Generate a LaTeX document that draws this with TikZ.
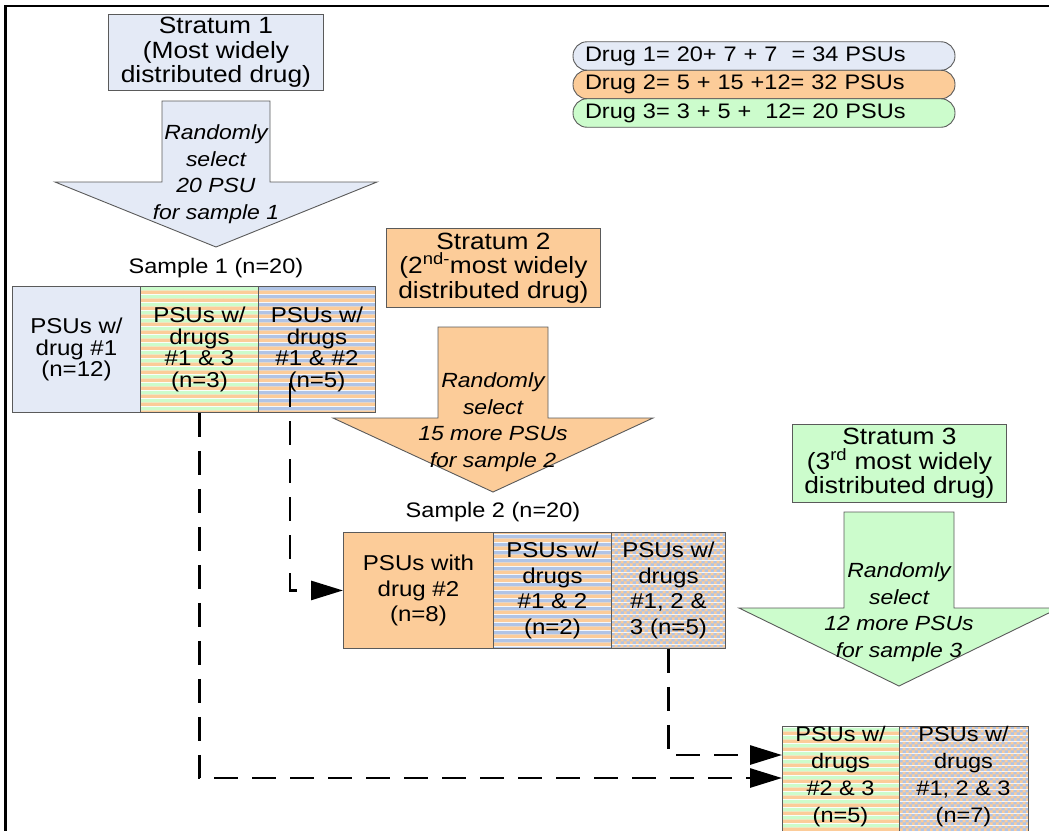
\documentclass[tikz,border=0pt]{standalone}
\usepackage{fontspec}
\setmainfont{Liberation Sans}[FakeStretch=1.12]
\usetikzlibrary{arrows.meta,patterns}
\definecolor{lblue}{RGB}{228,234,246}
\definecolor{porange}{RGB}{252,204,153}
\definecolor{pgreen}{RGB}{204,252,204}
\definecolor{sblue}{RGB}{176,196,230}
\definecolor{edgegray}{RGB}{90,90,90}
\pgfdeclarepatterninherentlycolored{stripeOG}{\pgfpointorigin}{\pgfpoint{8pt}{8pt}}{\pgfpoint{8pt}{8pt}}{%
  \pgfsetfillcolor{porange}\pgfpathrectangle{\pgfpointorigin}{\pgfpoint{8pt}{4pt}}\pgfusepath{fill}%
  \pgfsetfillcolor{pgreen}\pgfpathrectangle{\pgfpoint{0pt}{4pt}}{\pgfpoint{8pt}{4pt}}\pgfusepath{fill}}
\pgfdeclarepatterninherentlycolored{stripeOB}{\pgfpointorigin}{\pgfpoint{8pt}{8pt}}{\pgfpoint{8pt}{8pt}}{%
  \pgfsetfillcolor{porange}\pgfpathrectangle{\pgfpointorigin}{\pgfpoint{8pt}{4pt}}\pgfusepath{fill}%
  \pgfsetfillcolor{sblue}\pgfpathrectangle{\pgfpoint{0pt}{4pt}}{\pgfpoint{8pt}{4pt}}\pgfusepath{fill}}
\pgfdeclarepatterninherentlycolored{checkOB}{\pgfpointorigin}{\pgfpoint{6pt}{6pt}}{\pgfpoint{6pt}{6pt}}{%
  \pgfsetfillcolor{sblue}\pgfpathrectangle{\pgfpointorigin}{\pgfpoint{6pt}{6pt}}\pgfusepath{fill}%
  \pgfsetfillcolor{porange}\pgfpathrectangle{\pgfpointorigin}{\pgfpoint{3pt}{3pt}}%
  \pgfpathrectangle{\pgfpoint{3pt}{3pt}}{\pgfpoint{3pt}{3pt}}\pgfusepath{fill}}
\begin{document}
\begin{tikzpicture}[x=1pt,y=-1pt,
  box/.style={draw=edgegray, line width=0.9pt, inner sep=0pt, align=center, anchor=north west},
  blockarrow/.style={draw=edgegray, line width=0.9pt},
  stratfont/.style={font=\fontsize{23.5}{24.5}\selectfont},
  sonefont/.style={font=\fontsize{21.5}{21.5}\selectfont},
  stwofont/.style={font=\fontsize{21.5}{25.5}\selectfont},
  sthreefont/.style={font=\fontsize{21}{27}\selectfont},
  arrowtext/.style={align=center, inner sep=0pt, font=\itshape\fontsize{20.5}{26.5}\selectfont},
  pill/.style={draw=edgegray, line width=0.9pt, rounded corners=14pt, minimum width=382pt, minimum height=28.5pt,
     text width=358pt, align=left, inner sep=0pt, font=\fontsize{21}{22}\selectfont},
  conn/.style={line width=2.8pt, dash pattern=on 24pt off 14pt, -{Triangle[length=32pt,width=19pt]}},
  labelfont/.style={inner sep=0pt, font=\fontsize{21}{22}\selectfont}]
\useasboundingbox (0,0) rectangle (1049,830);
\clip (0,0) rectangle (1049,830);
% frame
\draw[line width=2.6pt] (5.5,835) -- (5.5,6) -- (1055,6);
% legend
\node[pill, fill=lblue] (l1) at (764,56) {Drug 1= 20+ 7 + 7\ \ = 34 PSUs};
\node[pill, fill=porange] (l2) at (764,84.5) {Drug 2= 5 + 15 +12= 32 PSUs};
\node[pill, fill=pgreen] (l3) at (764,113) {Drug 3= 3 + 5 +\ \ 12= 20 PSUs};
% stratum 1
\node[box, stratfont, fill=lblue, minimum width=215pt, minimum height=76pt] (st1) at (108,14) {Stratum 1\\(Most widely\\distributed drug)};
\draw[blockarrow, fill=lblue] (162,101) -- (270,101) -- (270,182) -- (377,182) -- (216,247) -- (55,182) -- (162,182) -- cycle;
\node[arrowtext] (a1) at (216,174) {Randomly\\select\\20 PSU\\for sample 1};
\node[labelfont] (sl1) at (216,268) {Sample 1 (n=20)};
% sample 1
\node[box, sonefont, fill=lblue, minimum width=128pt, minimum height=126pt] (s1a) at (12,286) {PSUs w/\\drug \#1\\(n=12)};
\node[box, sonefont, pattern=stripeOG, minimum width=118pt, minimum height=126pt] (s1b) at (140,286) {PSUs w/\\drugs\\\#1 \& 3\\(n=3)};
\node[box, sonefont, pattern=stripeOB, minimum width=117pt, minimum height=126pt] (s1c) at (258,286) {PSUs w/\\drugs\\\#1 \& \#2\\(n=5)};
% stratum 2
\node[box, stratfont, fill=porange, minimum width=214pt, minimum height=79pt] (st2) at (386,228) {Stratum 2\\(2\textsuperscript{nd-}most widely\\distributed drug)};
\draw[blockarrow, fill=porange] (438,327) -- (548,327) -- (548,418) -- (653,418) -- (493,492) -- (333,418) -- (438,418) -- cycle;
\node[arrowtext] (a2) at (493,422) {Randomly\\select\\15 more PSUs\\for sample 2};
\node[labelfont] (sl2) at (493,512) {Sample 2 (n=20)};
% sample 2
\node[box, stwofont, fill=porange, minimum width=150pt, minimum height=116pt] (s2a) at (343,532) {PSUs with\\drug \#2\\(n=8)};
\node[box, stwofont, pattern=stripeOB, minimum width=118pt, minimum height=116pt] (s2b) at (493,532) {PSUs w/\\drugs\\\#1 \& 2\\(n=2)};
\node[box, stwofont, pattern=checkOB, minimum width=114pt, minimum height=116pt] (s2c) at (611,532) {PSUs w/\\drugs\\\#1, 2 \&\\3 (n=5)};
% stratum 3
\node[box, stratfont, fill=pgreen, minimum width=214pt, minimum height=78pt] (st3) at (792,424) {Stratum 3\\(3\textsuperscript{rd} most widely\\distributed drug)};
\draw[blockarrow, fill=pgreen] (844,512) -- (954,512) -- (954,608) -- (1059,608) -- (899,686) -- (739,608) -- (844,608) -- cycle;
\node[arrowtext] (a3) at (899,612) {Randomly\\select\\12 more PSUs\\for sample 3};
% sample 3
\node[box, pattern=stripeOG, minimum width=117pt, minimum height=134pt] (s3a) at (782,726) {};
\node[box, pattern=checkOB, minimum width=129pt, minimum height=134pt] (s3b) at (899,726) {};
\node[sthreefont, align=center, inner sep=0pt] (s3at) at (840.5,777) {PSUs w/\\drugs\\\#2 \& 3\\(n=5)};
\node[sthreefont, align=center, inner sep=0pt] (s3bt) at (963.5,777) {PSUs w/\\drugs\\\#1, 2 \& 3\\(n=7)};
% connectors
\coordinate (c1) at (290,383);
\coordinate (t1) at (782,755);
\coordinate (t2) at (782,778);
\draw[conn] (c1) |- (s2a.west);
\draw[conn] (s1b.south) |- (t2);
\draw[conn] (s2c.south) |- (t1);
\end{tikzpicture}
\end{document}
